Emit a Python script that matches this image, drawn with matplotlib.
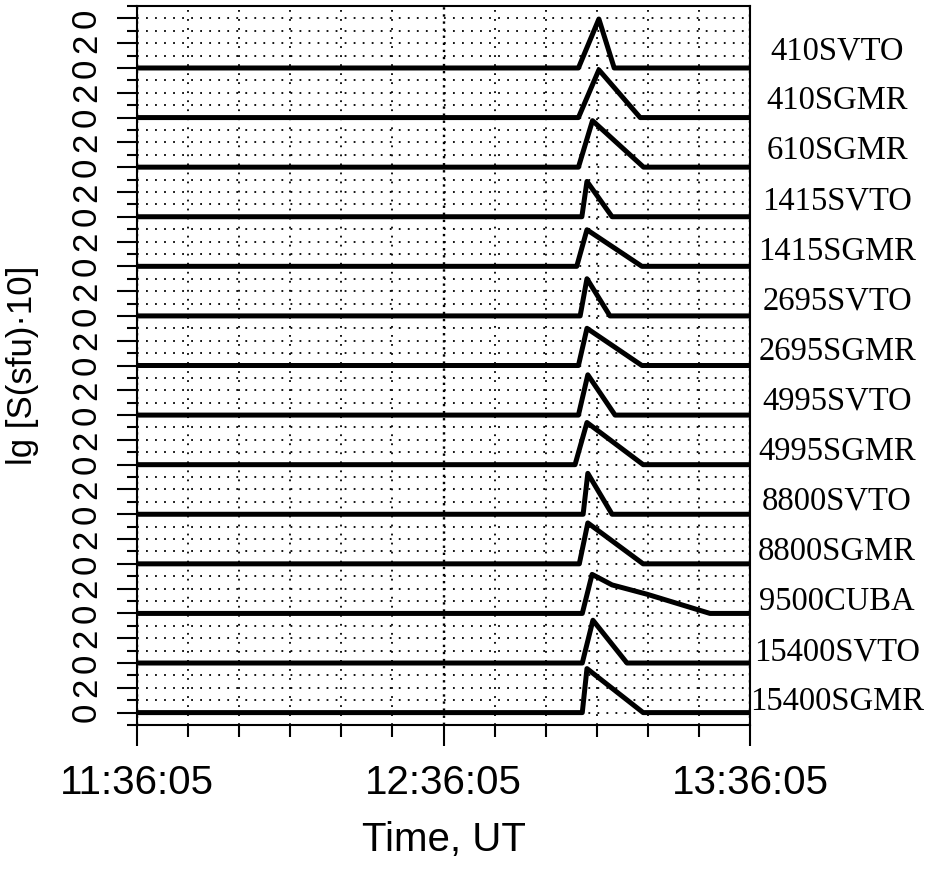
import matplotlib
matplotlib.use("Agg")
import matplotlib.pyplot as plt
from matplotlib import font_manager
from matplotlib.ticker import FixedLocator, MultipleLocator, FuncFormatter
import numpy as np

# time window of the record
t_first = "11:36:05"
t_last = "13:36:05"

stations = ["410SVTO", "410SGMR", "610SGMR", "1415SVTO", "1415SGMR",
            "2695SVTO", "2695SGMR", "4995SVTO", "4995SGMR", "8800SVTO",
            "8800SGMR", "9500CUBA", "15400SVTO", "15400SGMR"]

# burst outline for each record: rise start, peak, (knees), back to background
burst_times = [
    ["13:02:30", "13:06:30", "13:09:30"],
    ["13:02:30", "13:06:30", "13:14:35"],
    ["13:02:30", "13:05:15", "13:15:15"],
    ["13:03:10", "13:04:10", "13:09:05"],
    ["13:02:10", "13:04:10", "13:14:55"],
    ["13:02:50", "13:04:10", "13:08:40"],
    ["13:02:30", "13:04:10", "13:14:55"],
    ["13:02:30", "13:04:20", "13:09:40"],
    ["13:01:50", "13:04:10", "13:15:10"],
    ["13:03:25", "13:04:20", "13:09:05"],
    ["13:02:40", "13:04:20", "13:15:10"],
    ["13:03:15", "13:05:10", "13:09:05", "13:15:55", "13:28:15"],
    ["13:03:15", "13:05:20", "13:12:00"],
    ["13:03:15", "13:04:10", "13:15:10"],
]
burst_lg = [
    [0, 3.95, 0],
    [0, 3.85, 0],
    [0, 3.75, 0],
    [0, 2.85, 0],
    [0, 2.95, 0],
    [0, 3.0, 0],
    [0, 3.0, 0],
    [0, 3.25, 0],
    [0, 3.4, 0],
    [0, 3.3, 0],
    [0, 3.3, 0],
    [0, 3.15, 2.3, 1.55, 0],
    [0, 3.45, 0],
    [0, 3.55, 0],
]

STRIP = 4  # lg units per record strip


def clock_to_sec(s):
    h, m, sec = (int(v) for v in s.split(":"))
    return h * 3600 + m * 60 + sec


T0 = clock_to_sec(t_first)


def to_min(s):
    return (clock_to_sec(s) - T0) / 60.0


def min_to_clock(m, pos=None):
    s = int(round(T0 + m * 60))
    return "%d:%02d:%02d" % (s // 3600, (s // 60) % 60, s % 60)


names = {f.name for f in font_manager.fontManager.ttflist}
narrow = "Liberation Sans Narrow" if "Liberation Sans Narrow" in names else "Liberation Sans"
big = 32 if narrow == "Liberation Sans Narrow" else 29

span = to_min(t_last)
n = len(stations)

fig = plt.figure(figsize=(9.36, 8.73), dpi=100)
ax = fig.add_axes([137 / 936, 1 - 725 / 873, 613 / 936, 719 / 873])

for i, name in enumerate(stations):
    base = STRIP * (n - 1 - i)
    xs = [0] + [to_min(t) for t in burst_times[i]] + [span]
    ys = [0] + burst_lg[i] + [0]
    ax.plot(xs, base + np.array(ys), color="black", lw=3.6, zorder=3)

ax.set_xlim(0, span)
ax.set_ylim(-1, STRIP * n + 1)

# x axis: hours labelled, every 10 minutes ticked
ax.xaxis.set_major_locator(MultipleLocator(60))
ax.xaxis.set_minor_locator(MultipleLocator(10))
ax.xaxis.set_major_formatter(FuncFormatter(min_to_clock))

# y axis: "0" at each strip base, "2" half way up
ymaj = np.arange(0, STRIP * n + 1, 2)
ax.yaxis.set_major_locator(FixedLocator(ymaj))
ax.yaxis.set_minor_locator(FixedLocator(np.arange(-1, STRIP * n + 2, 2)))
ax.set_yticklabels(["0" if v % STRIP == 0 else "2" for v in ymaj])

ax.tick_params(axis="both", which="both", direction="out", width=1.5, color="black")
ax.tick_params(axis="y", which="major", length=14.4, pad=10)
ax.tick_params(axis="y", which="minor", length=7.2)
ax.tick_params(axis="x", which="major", length=15, pad=13)
ax.tick_params(axis="x", which="minor", length=8.6)
for lab in ax.get_yticklabels():
    lab.set_rotation(90)
    lab.set_va("center")
    lab.set_fontsize(25)
    lab.set_fontfamily("Liberation Sans")
for lab in ax.get_xticklabels():
    lab.set_fontsize(big)
    lab.set_fontfamily(narrow)

for sp in ax.spines.values():
    sp.set_linewidth(1.5)

ax.set_axisbelow(True)
ax.grid(True, axis="y", which="both", color="black", linestyle=(0, (1, 4)), lw=1.3)
ax.grid(True, axis="x", which="minor", color="black", linestyle=(0, (1, 4)), lw=1.3)
ax.grid(True, axis="x", which="major", color="black", linestyle=(0, (1, 2)), lw=1.7)

# station labels down the right-hand side
for name, yf in zip(stations, np.linspace(0.9374, 0.032, n)):
    ax.text(1.142, yf, name, transform=ax.transAxes, ha="center", va="center",
            fontsize=23.5, family="Liberation Serif", clip_on=False)

ax.set_xlabel("Time, UT", fontsize=big, family=narrow)
ax.xaxis.set_label_coords(0.5, -0.16)
ax.xaxis.label.set_va("center")
ax.set_ylabel("lg [S(sfu)\u00b710]", fontsize=25, family="Liberation Sans")
ax.yaxis.set_label_coords(-0.186, 0.5)
ax.yaxis.label.set_va("center")

fig.savefig("out.png", dpi=100)
